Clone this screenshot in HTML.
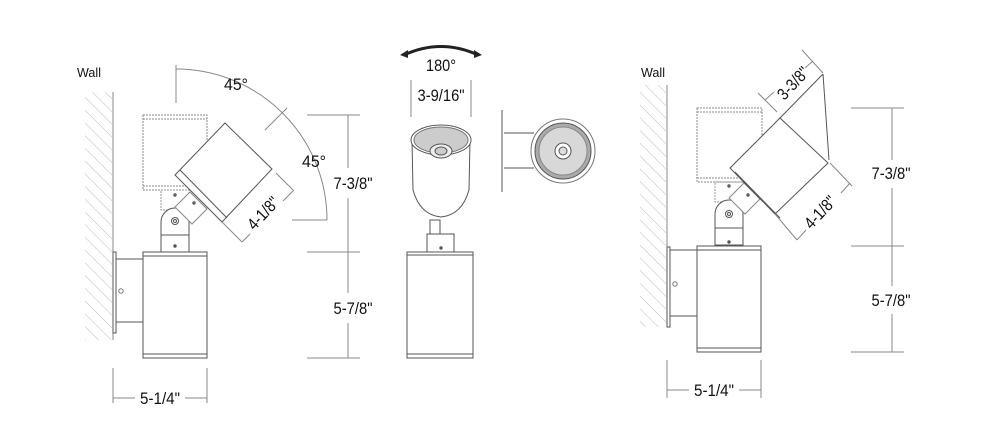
<!DOCTYPE html>
<html><head><meta charset="utf-8"><style>
html,body{margin:0;padding:0;background:#fff;}
svg{display:block;}
text{font-family:"Liberation Sans",sans-serif;fill:#111;}
</style></head><body>
<svg width="991" height="435" viewBox="0 0 991 435" xmlns="http://www.w3.org/2000/svg">
<defs>
<pattern id="hatch" width="9" height="9" patternUnits="userSpaceOnUse" patternTransform="rotate(-45)">
<line x1="0" y1="0" x2="0" y2="9" stroke="#aaa" stroke-width="0.8"/>
</pattern>
</defs>
<g fill="none" stroke="#555" stroke-width="1">
<!-- ===== LEFT FIGURE ===== -->
<rect x="85" y="92" width="27" height="248" fill="url(#hatch)" stroke="none"/>
<line x1="113" y1="92" x2="113" y2="340" stroke="#888"/>
<rect x="113" y="252" width="3" height="81" fill="#fff"/>
<rect x="116" y="259" width="31" height="63" fill="#fff"/>
<circle cx="121" cy="291" r="2.2" stroke="#777"/>
<rect x="143" y="252" width="64" height="106" fill="#fff"/>
<line x1="143" y1="256" x2="207" y2="256"/>
<line x1="143" y1="354" x2="207" y2="354"/>
<rect x="143" y="115" width="64" height="75" stroke="#888" stroke-dasharray="2,1"/>
<line x1="143" y1="119" x2="207" y2="119" stroke="#888" stroke-dasharray="2,1"/>
<line x1="143" y1="186" x2="207" y2="186" stroke="#888" stroke-dasharray="2,1"/>
<rect x="161" y="190" width="28" height="20" stroke="#999" stroke-dasharray="2,1"/>
<path d="M161 252 V222 A14 14 0 0 1 189 222 V252 Z" fill="#fff"/>
<line x1="161" y1="235" x2="189" y2="235"/>
<circle cx="175" cy="221" r="3.5"/><circle cx="175" cy="221" r="1.5"/>
<circle cx="175" cy="246" r="1.2" fill="#555"/>
<circle cx="175" cy="195" r="1.2" fill="#777"/>
<polygon points="175,207 190,192 207,209 192,224" fill="#fff" stroke="#888"/>
<circle cx="194" cy="203" r="1.2" fill="#777"/>
<polygon points="175,175 225,123 272,169 222,222" fill="#fff"/>
<line x1="180" y1="170" x2="227" y2="218"/>
<line x1="176" y1="65" x2="176" y2="103" stroke="#888"/>
<path d="M176 69 A151 151 0 0 1 327 220" stroke="#888"/>
<line x1="292" y1="220" x2="327" y2="220" stroke="#888"/>
<line x1="265" y1="130" x2="287" y2="108" stroke="#888"/>
<line x1="222" y1="222" x2="242" y2="242" stroke="#888"/>
<line x1="276" y1="173" x2="294" y2="191" stroke="#888"/>
<line x1="242" y1="242" x2="250" y2="234" stroke="#888"/>
<line x1="283" y1="201" x2="293" y2="191" stroke="#888"/>
<line x1="348" y1="115" x2="348" y2="168" stroke="#888"/>
<line x1="348" y1="198" x2="348" y2="293" stroke="#888"/>
<line x1="348" y1="323" x2="348" y2="358" stroke="#888"/>
<line x1="307" y1="115" x2="360" y2="115" stroke="#888"/>
<line x1="307" y1="252" x2="360" y2="252" stroke="#888"/>
<line x1="307" y1="358" x2="360" y2="358" stroke="#888"/>
<line x1="113" y1="368" x2="113" y2="403" stroke="#888"/>
<line x1="207" y1="368" x2="207" y2="403" stroke="#888"/>
<line x1="113" y1="398" x2="135" y2="398" stroke="#888"/>
<line x1="185" y1="398" x2="207" y2="398" stroke="#888"/>

<!-- ===== MIDDLE FIGURE ===== -->
<path d="M404 55 Q441 38 478 55" stroke="#222" stroke-width="3"/>
<path d="M400 55 l8 -5 l0 8 z M482 55 l-8 -5 l0 8 z" fill="#222" stroke="none"/>
<line x1="411" y1="80" x2="411" y2="117" stroke="#888"/>
<line x1="471" y1="80" x2="471" y2="117" stroke="#888"/>
<path d="M412 140 L413 190 Q420 215 441 217 Q462 215 469 190 L470 140" fill="#fff"/>
<ellipse cx="441" cy="140" rx="30" ry="15" fill="#fff"/>
<ellipse cx="441" cy="140" rx="27" ry="13" fill="#ccc" stroke="#777"/>
<ellipse cx="441" cy="151" rx="11" ry="7" fill="#eee" stroke="#555"/>
<ellipse cx="441" cy="151" rx="6" ry="4" fill="#ccc"/>
<path d="M430 220 h10 v14 h-10 z" fill="#fff"/>
<rect x="427" y="234" width="27" height="18" fill="#fff"/>
<circle cx="441" cy="248" r="1.2" fill="#555"/>
<rect x="407" y="252" width="66" height="106" fill="#fff"/>
<line x1="407" y1="255" x2="473" y2="255"/>
<line x1="407" y1="354" x2="473" y2="354"/>
<line x1="502" y1="110" x2="502" y2="192"/>
<line x1="504" y1="133" x2="534" y2="133"/>
<line x1="504" y1="168" x2="534" y2="168"/>
<circle cx="563" cy="151" r="32" fill="#fff" stroke="#777"/>
<circle cx="563" cy="151" r="28" fill="#aaa" stroke="#555"/>
<circle cx="563" cy="151" r="24" fill="#d8d8d8" stroke="#888"/>
<circle cx="563" cy="151" r="8" fill="#fff" stroke="#555"/>
<circle cx="563" cy="151" r="4" fill="#ddd" stroke="#555"/>

<!-- ===== RIGHT FIGURE ===== -->
<rect x="640" y="85" width="26" height="242" fill="url(#hatch)" stroke="none"/>
<line x1="667" y1="85" x2="667" y2="327" stroke="#888"/>
<rect x="667" y="247" width="3" height="80" fill="#fff"/>
<rect x="670" y="250" width="32" height="66" fill="#fff"/>
<circle cx="675" cy="284" r="2.2" stroke="#777"/>
<rect x="697" y="246" width="64" height="106" fill="#fff"/>
<line x1="697" y1="250" x2="761" y2="250"/>
<line x1="697" y1="348" x2="761" y2="348"/>
<rect x="697" y="108" width="65" height="74" stroke="#888" stroke-dasharray="2,1"/>
<line x1="697" y1="112" x2="762" y2="112" stroke="#888" stroke-dasharray="2,1"/>
<line x1="697" y1="178" x2="762" y2="178" stroke="#888" stroke-dasharray="2,1"/>
<rect x="715" y="182" width="28" height="20" stroke="#999" stroke-dasharray="2,1"/>
<path d="M715 245 V214 A14 14 0 0 1 743 214 V245 Z" fill="#fff"/>
<line x1="715" y1="228" x2="743" y2="228"/>
<circle cx="729" cy="214" r="3.5"/><circle cx="729" cy="214" r="1.5"/>
<circle cx="729" cy="242" r="1.2" fill="#555"/>
<circle cx="729" cy="186" r="1.2" fill="#777"/>
<polygon points="729,198 744,183 760,199 745,214" fill="#fff" stroke="#888"/>
<circle cx="748" cy="195" r="1.2" fill="#777"/>
<polygon points="730,168 780,118 828,163 775,214" fill="#fff"/>
<line x1="735" y1="172" x2="780" y2="218"/>
<line x1="780" y1="118" x2="823" y2="74"/>
<line x1="823" y1="74" x2="829" y2="160"/>
<line x1="777" y1="112" x2="758" y2="93" stroke="#888"/>
<line x1="823" y1="73" x2="802" y2="50" stroke="#888"/>
<line x1="765" y1="100" x2="774" y2="92" stroke="#888"/>
<line x1="805" y1="68" x2="813" y2="61" stroke="#888"/>
<line x1="830" y1="163" x2="852" y2="186" stroke="#888"/>
<line x1="775" y1="214" x2="797" y2="240" stroke="#888"/>
<line x1="850" y1="183" x2="841" y2="193" stroke="#888"/>
<line x1="806" y1="230" x2="797" y2="240" stroke="#888"/>
<line x1="892" y1="108" x2="892" y2="160" stroke="#888"/>
<line x1="892" y1="188" x2="892" y2="286" stroke="#888"/>
<line x1="892" y1="314" x2="892" y2="352" stroke="#888"/>
<line x1="851" y1="108" x2="904" y2="108" stroke="#888"/>
<line x1="851" y1="246" x2="904" y2="246" stroke="#888"/>
<line x1="851" y1="352" x2="904" y2="352" stroke="#888"/>
<line x1="667" y1="360" x2="667" y2="398" stroke="#888"/>
<line x1="761" y1="360" x2="761" y2="398" stroke="#888"/>
<line x1="667" y1="390" x2="689" y2="390" stroke="#888"/>
<line x1="739" y1="390" x2="761" y2="390" stroke="#888"/>
</g>
<g font-size="17" text-anchor="middle">
<text x="89" y="77" font-size="13" textLength="24" lengthAdjust="spacingAndGlyphs">Wall</text>
<text x="653" y="77" font-size="13" textLength="24" lengthAdjust="spacingAndGlyphs">Wall</text>
<text x="236" y="90" textLength="24" lengthAdjust="spacingAndGlyphs">45°</text>
<text x="314" y="167" textLength="24" lengthAdjust="spacingAndGlyphs">45°</text>
<text x="0" y="6" transform="translate(263,213) rotate(-47)" textLength="38" lengthAdjust="spacingAndGlyphs">4-1/8"</text>
<text x="353" y="189" textLength="39" lengthAdjust="spacingAndGlyphs">7-3/8"</text>
<text x="353" y="314" textLength="39" lengthAdjust="spacingAndGlyphs">5-7/8"</text>
<text x="160" y="404" textLength="40" lengthAdjust="spacingAndGlyphs">5-1/4"</text>
<text x="441" y="71" textLength="30" lengthAdjust="spacingAndGlyphs">180°</text>
<text x="441" y="101" textLength="47" lengthAdjust="spacingAndGlyphs">3-9/16"</text>
<text x="0" y="6" transform="translate(793,83) rotate(-47)" textLength="38" lengthAdjust="spacingAndGlyphs">3-3/8"</text>
<text x="0" y="6" transform="translate(820,212) rotate(-47)" textLength="38" lengthAdjust="spacingAndGlyphs">4-1/8"</text>
<text x="891" y="179" textLength="39" lengthAdjust="spacingAndGlyphs">7-3/8"</text>
<text x="891" y="306" textLength="39" lengthAdjust="spacingAndGlyphs">5-7/8"</text>
<text x="714" y="396" textLength="40" lengthAdjust="spacingAndGlyphs">5-1/4"</text>
</g>
</svg>
</body></html>
